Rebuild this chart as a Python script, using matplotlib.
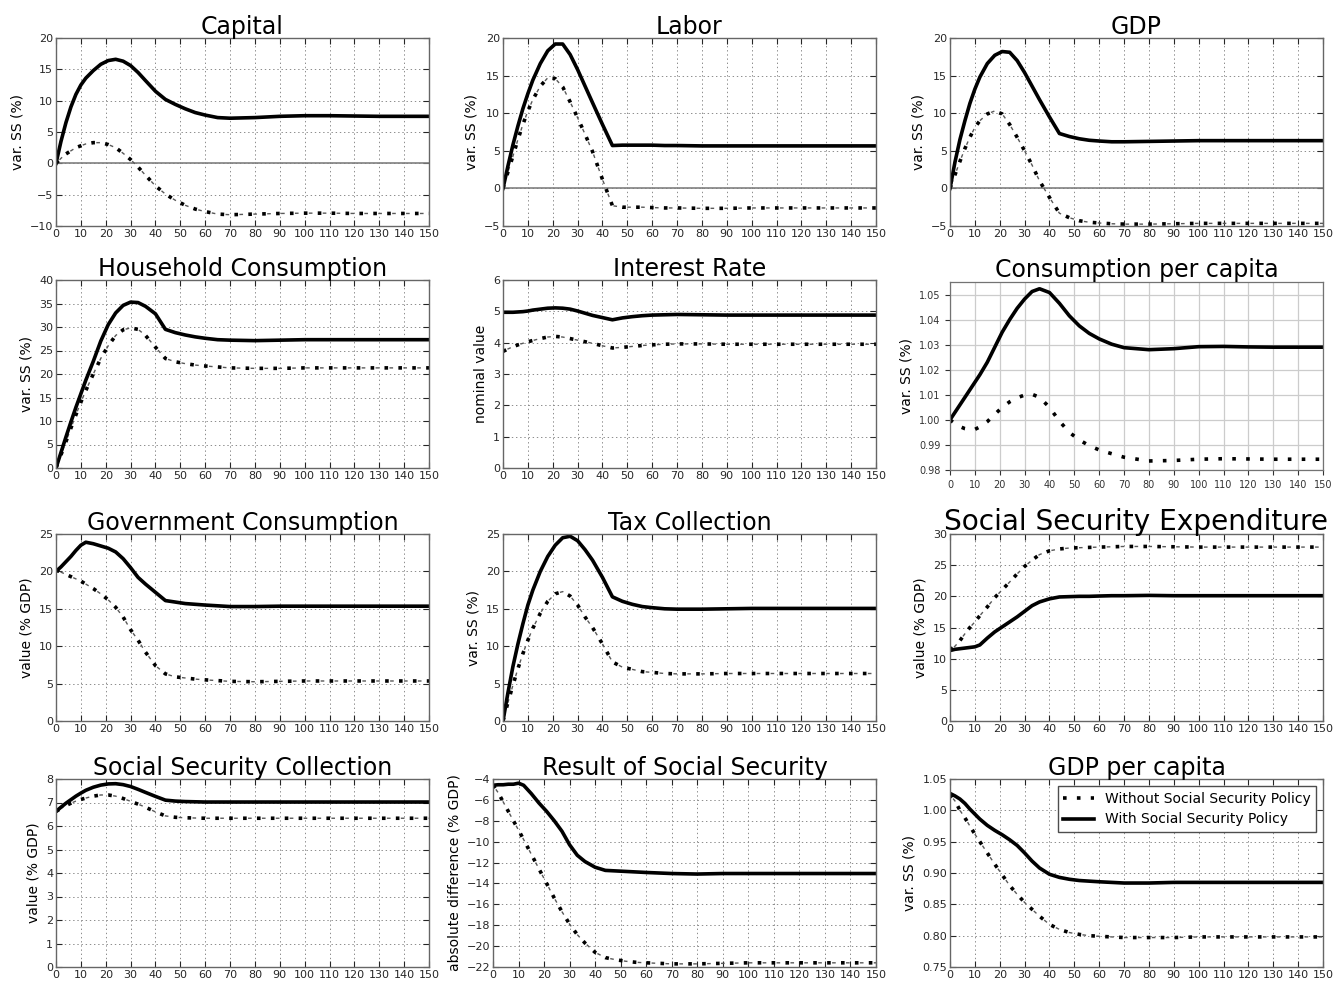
import matplotlib
matplotlib.use('Agg')
from matplotlib import pyplot as plt
from matplotlib.lines import Line2D
import numpy as np

plt.rcParams['font.family'] = ['DejaVu Sans']
plt.rcParams['lines.scale_dashes'] = False

years = [0, 2, 4, 6, 8, 10, 12, 15, 18, 21, 24, 27, 30, 33, 36, 40, 44, 48, 52, 56, 60,
         65, 70, 80, 90, 100, 110, 120, 130, 140, 150]

capital_with = [0, 3.5, 6.5, 9.0, 11.0, 12.5, 13.6, 14.8, 15.8, 16.4, 16.6, 16.3, 15.6, 14.5, 13.2,
                11.5, 10.2, 9.4, 8.7, 8.1, 7.7, 7.3, 7.2, 7.3, 7.5, 7.6, 7.6, 7.55, 7.5, 7.5, 7.5]
capital_without = [0, 0.8, 1.5, 2.0, 2.5, 2.8, 3.1, 3.3, 3.3, 3.0, 2.5, 1.6, 0.6, -0.6, -1.9,
                   -3.6, -4.9, -5.9, -6.7, -7.3, -7.7, -8.1, -8.2, -8.1, -8.0, -7.95, -7.95, -8.0, -8.0, -8.0, -8.0]

labor_with = [0, 3.0, 5.8, 8.3, 10.6, 12.6, 14.4, 16.6, 18.3, 19.2, 19.2, 17.8, 15.8, 13.6, 11.4,
              8.5, 5.7, 5.75, 5.75, 5.75, 5.75, 5.7, 5.7, 5.65, 5.65, 5.65, 5.65, 5.65, 5.65, 5.65, 5.65]
labor_without = [0, 2.2, 4.3, 6.5, 8.5, 10.3, 11.8, 13.6, 14.7, 14.6, 13.5, 11.5, 9.4, 7.2, 4.9,
                 1.2, -2.3, -2.5, -2.5, -2.5, -2.55, -2.6, -2.6, -2.65, -2.65, -2.6, -2.6, -2.6, -2.6, -2.6, -2.6]

gdp_with = [0, 3.5, 6.5, 9.0, 11.3, 13.2, 14.8, 16.6, 17.7, 18.2, 18.1, 17.0, 15.4, 13.6, 11.8,
            9.5, 7.3, 6.9, 6.6, 6.4, 6.3, 6.2, 6.2, 6.25, 6.3, 6.35, 6.35, 6.35, 6.35, 6.35, 6.35]
gdp_without = [0, 1.8, 3.6, 5.3, 6.8, 8.1, 9.0, 9.9, 10.3, 9.9, 8.5, 6.8, 5.0, 3.1, 1.0,
               -1.2, -3.3, -3.9, -4.3, -4.5, -4.6, -4.7, -4.75, -4.75, -4.7, -4.65, -4.65, -4.65, -4.65, -4.65, -4.65]

household_with = [0, 3.3, 6.6, 9.8, 12.9, 15.8, 18.7, 22.7, 27.0, 30.5, 33.0, 34.6, 35.3, 35.2, 34.4,
                  32.8, 29.5, 28.8, 28.3, 27.9, 27.6, 27.3, 27.2, 27.1, 27.2, 27.3, 27.3, 27.3, 27.3, 27.3, 27.3]
household_without = [0, 2.8, 5.6, 8.5, 11.3, 14.0, 16.5, 20.0, 23.3, 26.0, 28.2, 29.4, 29.8, 29.5, 28.2,
                     25.7, 23.3, 22.6, 22.2, 21.9, 21.7, 21.5, 21.3, 21.2, 21.2, 21.3, 21.3, 21.3, 21.3, 21.3, 21.3]

interest_with = [4.97, 4.97, 4.97, 4.98, 4.99, 5.01, 5.04, 5.07, 5.10, 5.11, 5.10, 5.07, 5.01, 4.94, 4.87,
                 4.80, 4.73, 4.79, 4.83, 4.86, 4.88, 4.89, 4.90, 4.89, 4.88, 4.88, 4.88, 4.88, 4.88, 4.88, 4.88]
interest_without = [3.72, 3.80, 3.87, 3.93, 3.98, 4.03, 4.07, 4.13, 4.18, 4.20, 4.18, 4.13, 4.08, 4.03, 3.98,
                    3.90, 3.83, 3.85, 3.88, 3.91, 3.93, 3.95, 3.96, 3.96, 3.95, 3.95, 3.95, 3.95, 3.95, 3.95, 3.95]

cons_pc_with = [1.0, 1.003, 1.006, 1.009, 1.012, 1.015, 1.018, 1.023, 1.029, 1.035, 1.040, 1.0445, 1.0482,
                1.0512, 1.0523, 1.0508, 1.0465, 1.0415, 1.0375, 1.0345, 1.0323, 1.0302, 1.0288, 1.0280,
                1.0284, 1.0292, 1.0293, 1.0291, 1.029, 1.029, 1.029]
cons_pc_without = [1.0, 0.9985, 0.9973, 0.9965, 0.9961, 0.9962, 0.9972, 0.9993, 1.0022, 1.0050, 1.0072,
                   1.0088, 1.0099, 1.0102, 1.0090, 1.0050, 0.9995, 0.9950, 0.9920, 0.9897, 0.9880, 0.9865,
                   0.9851, 0.9836, 0.9838, 0.9843, 0.9845, 0.9844, 0.9843, 0.9843, 0.9843]

gov_with = [20.0, 20.6, 21.3, 22.0, 22.8, 23.5, 23.9, 23.7, 23.4, 23.1, 22.6, 21.7, 20.5, 19.2, 18.3,
            17.2, 16.1, 15.9, 15.7, 15.6, 15.5, 15.4, 15.3, 15.3, 15.35, 15.35, 15.35, 15.35, 15.35, 15.35, 15.35]
gov_without = [20.2, 19.9, 19.6, 19.3, 19.0, 18.7, 18.3, 17.7, 17.0, 16.2, 15.2, 13.9, 12.2, 10.8, 9.2,
               7.4, 6.3, 5.9, 5.75, 5.6, 5.5, 5.4, 5.3, 5.25, 5.3, 5.35, 5.35, 5.35, 5.35, 5.35, 5.35]

tax_with = [0, 3.8, 7.3, 10.3, 13.0, 15.5, 17.5, 20.0, 22.0, 23.5, 24.5, 24.7, 24.1, 22.9, 21.5,
            19.2, 16.6, 16.0, 15.6, 15.3, 15.15, 15.0, 14.95, 14.95, 15.0, 15.05, 15.05, 15.05, 15.05, 15.05, 15.05]
tax_without = [0, 2.5, 4.8, 7.0, 9.0, 10.8, 12.4, 14.4, 16.0, 17.0, 17.3, 16.7, 15.5, 13.9, 12.5,
               10.3, 7.9, 7.2, 6.9, 6.6, 6.5, 6.35, 6.3, 6.3, 6.35, 6.35, 6.35, 6.35, 6.35, 6.35, 6.35]

ss_exp_with = [11.3, 11.5, 11.6, 11.7, 11.8, 11.9, 12.2, 13.3, 14.3, 15.1, 15.9, 16.7, 17.6, 18.5, 19.1,
               19.6, 19.9, 19.95, 20.0, 20.0, 20.05, 20.1, 20.1, 20.15, 20.1, 20.1, 20.1, 20.1, 20.1, 20.1, 20.1]
ss_exp_without = [11.4, 12.0, 12.9, 14.0, 15.0, 15.9, 16.9, 18.3, 19.8, 21.05, 22.3, 23.6, 24.8, 25.8, 26.7,
                  27.3, 27.6, 27.75, 27.8, 27.85, 27.9, 27.95, 28.0, 28.0, 27.95, 27.9, 27.9, 27.9, 27.9, 27.9, 27.9]

ss_col_with = [6.62, 6.8, 6.97, 7.12, 7.27, 7.4, 7.52, 7.65, 7.74, 7.79, 7.8, 7.76, 7.68, 7.56, 7.43,
               7.26, 7.1, 7.06, 7.04, 7.03, 7.02, 7.02, 7.02, 7.02, 7.02, 7.02, 7.02, 7.02, 7.02, 7.02, 7.02]
ss_col_without = [6.62, 6.75, 6.87, 6.97, 7.06, 7.13, 7.19, 7.27, 7.32, 7.32, 7.27, 7.17, 7.05, 6.93, 6.8,
                  6.6, 6.43, 6.37, 6.35, 6.34, 6.33, 6.33, 6.33, 6.33, 6.33, 6.33, 6.33, 6.33, 6.33, 6.33, 6.33]

ss_res_with = [-4.6, -4.55, -4.55, -4.5, -4.5, -4.4, -4.6, -5.4, -6.3, -7.1, -8.0, -9.0, -10.3, -11.3, -11.9,
               -12.45, -12.75, -12.8, -12.85, -12.9, -12.95, -13.0, -13.05, -13.1, -13.05, -13.05, -13.05,
               -13.05, -13.05, -13.05, -13.05]
ss_res_without = [-4.6, -5.3, -6.2, -7.1, -8.0, -8.9, -9.8, -11.2, -12.6, -14.0, -15.4, -16.7, -17.9, -18.9,
                  -19.7, -20.6, -21.1, -21.3, -21.45, -21.55, -21.6, -21.65, -21.7, -21.7, -21.65, -21.6,
                  -21.6, -21.6, -21.6, -21.6, -21.6]

gdp_pc_with = [1.027, 1.023, 1.018, 1.011, 1.002, 0.994, 0.986, 0.976, 0.968, 0.961, 0.953, 0.944, 0.932,
               0.919, 0.908, 0.898, 0.893, 0.890, 0.888, 0.887, 0.886, 0.885, 0.884, 0.884, 0.885, 0.885,
               0.885, 0.885, 0.885, 0.885, 0.885]
gdp_pc_without = [1.025, 1.015, 1.0, 0.988, 0.975, 0.962, 0.950, 0.932, 0.914, 0.897, 0.880, 0.866, 0.853,
                  0.842, 0.831, 0.818, 0.810, 0.805, 0.802, 0.800, 0.799, 0.798, 0.797, 0.797, 0.797, 0.798,
                  0.798, 0.798, 0.798, 0.798, 0.798]

xticks = list(range(0, 151, 10))
cons_pc_ticks = [0.98, 0.99, 1.00, 1.01, 1.02, 1.03, 1.04, 1.05]
gdp_pc_ticks = [0.75, 0.80, 0.85, 0.90, 0.95, 1.00, 1.05]

# (row, col, title, ylabel, with, without, ylim, yticks, zero line, title size)
panels = [
    (0, 0, 'Capital', 'var. SS (%)', capital_with, capital_without, (-10, 20), range(-10, 21, 5), True, 17),
    (0, 1, 'Labor', 'var. SS (%)', labor_with, labor_without, (-5, 20), range(-5, 21, 5), True, 17),
    (0, 2, 'GDP', 'var. SS (%)', gdp_with, gdp_without, (-5, 20), range(-5, 21, 5), True, 17),
    (1, 0, 'Household Consumption', 'var. SS (%)', household_with, household_without, (0, 40), range(0, 41, 5), False, 17),
    (1, 1, 'Interest Rate', 'nominal value', interest_with, interest_without, (0, 6), range(0, 7), False, 17),
    (1, 2, 'Consumption per capita', 'var. SS (%)', cons_pc_with, cons_pc_without, (0.98, 1.055),
     cons_pc_ticks, False, 17),
    (2, 0, 'Government Consumption', 'value (% GDP)', gov_with, gov_without, (0, 25), range(0, 26, 5), False, 17),
    (2, 1, 'Tax Collection', 'var. SS (%)', tax_with, tax_without, (0, 25), range(0, 26, 5), False, 17),
    (2, 2, 'Social Security Expenditure', 'value (% GDP)', ss_exp_with, ss_exp_without, (0, 30), range(0, 31, 5), False, 20.2),
    (3, 0, 'Social Security Collection', 'value (% GDP)', ss_col_with, ss_col_without, (0, 8), range(0, 9), False, 17),
    (3, 1, 'Result of Social Security', 'absolute difference (% GDP)', ss_res_with, ss_res_without, (-22, -4),
     range(-22, -3, 2), False, 17),
    (3, 2, 'GDP per capita', 'var. SS (%)', gdp_pc_with, gdp_pc_without, (0.75, 1.05),
     gdp_pc_ticks, False, 17),
]

W, H = 1334, 981
row_px = [(38, 226), (280, 468), (534, 721), (779, 967)]
col_px = [(56, 429), (503, 876), (950, 1323)]

fig = plt.figure(figsize=(W / 100, H / 100), dpi=100)
fig.patch.set_facecolor('white')


def dotted(ax, y, with_dash=True):
    ax.plot(years, y, color='k', lw=2.6, ls=(0, (2.6, 7.4)))
    if with_dash:
        ax.plot(years, y, color='0.35', lw=1.0, ls=(6.4, (2.6, 7.4)))


for row, col, title, ylabel, y_with, y_without, ylim, yticks, zero, tsize in panels:
    top, bottom = row_px[row]
    left, right = col_px[col]
    modern = (title == 'Consumption per capita')
    if modern:
        top, bottom = 282, 470
    if title == 'Result of Social Security':
        left = 493
    ax = fig.add_axes([left / W, 1 - bottom / H, (right - left) / W, (bottom - top) / H])

    if zero:
        ax.axhline(0, color='0.5', lw=1.2)
    dotted(ax, y_without, with_dash=not modern)
    ax.plot(years, y_with, color='k', lw=2.6)

    ax.set_xlim(0, 150)
    ax.set_ylim(*ylim)
    ax.set_xticks(xticks)
    ax.set_yticks(list(yticks))
    if yticks is cons_pc_ticks or yticks is gdp_pc_ticks:
        ax.set_yticklabels(['%.2f' % v for v in yticks])
    ax.set_title(title, fontsize=tsize, pad=3)
    ax.set_ylabel(ylabel, fontsize=10, labelpad=4)

    if modern:
        ax.grid(True, color='0.8', lw=0.9, ls='-')
        ax.tick_params(direction='out', length=3.5, labelsize=7, colors='0.2', width=0.8)
        for s in ax.spines.values():
            s.set_color('0.45')
            s.set_linewidth(0.9)
    else:
        ax.grid(True, color='0.55', lw=0.7, ls=(0, (1, 2)))
        ax.tick_params(direction='in', length=4, top=True, right=True, labelsize=8,
                       colors='0.15', width=0.8, pad=2)
        for s in ax.spines.values():
            s.set_color('0.4')
            s.set_linewidth(1.0)
    ax.set_axisbelow(True)

    if title == 'GDP per capita':
        handles = [Line2D([], [], color='k', lw=2.6, ls=(0, (2.6, 7.4))),
                   Line2D([], [], color='k', lw=2.6)]
        leg = ax.legend(handles, ['Without Social Security Policy', 'With Social Security Policy'],
                        loc='upper right', fontsize=10, fancybox=False, framealpha=1,
                        borderaxespad=0.5, handlelength=2.2)
        leg.get_frame().set_edgecolor('0.3')
        leg.get_frame().set_linewidth(1.0)

fig.savefig('out.png', dpi=100, facecolor='white')
